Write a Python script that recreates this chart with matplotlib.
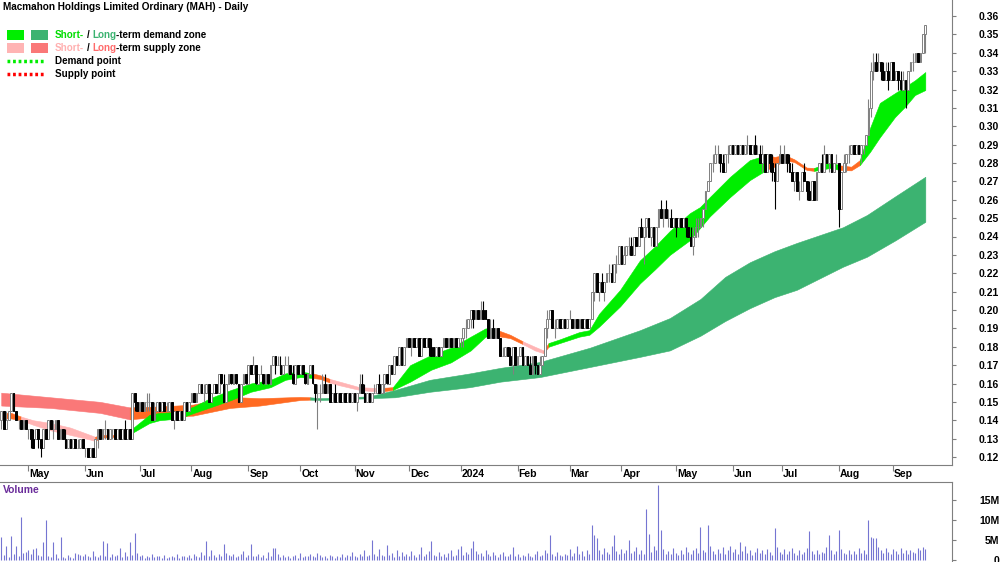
import numpy as np
import pandas as pd
import matplotlib
matplotlib.use('Agg')
import matplotlib.pyplot as plt
import matplotlib.transforms as mtransforms
from matplotlib.patches import Rectangle
from matplotlib.lines import Line2D

plt.rcParams['font.family'] = ['Liberation Sans', 'DejaVu Sans']

# ---- daily prices (cents) ----
opens = [
    14.0, 14.5, 13.5, 14.0, 14.5, 15.5, 14.5, 14.0, 14.0, 13.5,
    14.0, 13.5, 13.5, 13.0, 13.0, 13.5, 13.0, 12.5, 13.5, 13.0,
    14.0, 13.5, 13.5, 14.0, 13.0, 13.5, 13.0, 12.5, 13.0, 12.5,
    13.0, 12.5, 12.5, 13.0, 12.5, 12.5, 12.0, 12.5, 12.0, 13.0,
    13.5, 13.0, 13.5, 13.5, 13.0, 13.5, 13.5, 13.0, 13.5, 13.0,
    13.5, 13.0, 13.5, 13.0, 15.5, 15.0, 14.5, 15.0, 14.5, 15.0,
    15.0, 15.0, 14.0, 14.5, 15.0, 14.5, 15.0, 14.5, 14.5, 15.0,
    14.0, 14.5, 14.0, 14.5, 14.0, 15.0, 14.5, 15.0, 15.5, 15.0,
    15.5, 16.0, 15.5, 15.5, 16.0, 15.0, 15.5, 16.0, 15.5, 16.5,
    16.0, 15.0, 16.0, 16.5, 16.0, 16.5, 16.0, 15.0, 16.0, 16.5,
    16.0, 17.0, 16.5, 17.0, 16.0, 16.5, 16.5, 16.0, 16.5, 16.0,
    17.0, 17.5, 17.0, 17.0, 16.5, 17.0, 17.0, 17.0, 16.5, 16.0,
    17.0, 16.5, 17.0, 16.5, 16.0, 16.5, 17.0, 16.0, 15.5, 15.5,
    15.5, 16.0, 15.5, 16.0, 15.0, 15.5, 15.0, 15.5, 15.0, 15.5,
    15.0, 15.5, 15.0, 15.5, 15.0, 15.5, 16.0, 15.5, 15.0, 15.5,
    15.0, 15.5, 15.5, 16.0, 15.5, 16.0, 16.5, 16.0, 17.0, 16.5,
    17.5, 17.0, 18.0, 17.0, 18.0, 18.5, 18.0, 18.5, 18.0, 18.5,
    17.5, 18.5, 18.0, 18.5, 18.0, 18.0, 17.5, 18.0, 17.5, 18.0,
    18.5, 18.0, 18.5, 18.0, 18.5, 18.0, 18.5, 18.5, 19.0, 19.0,
    19.5, 20.0, 19.5, 20.0, 19.5, 20.0, 20.0, 19.5, 18.5, 19.0,
    18.5, 19.0, 18.5, 17.5, 17.5, 18.0, 17.5, 17.0, 18.0, 17.0,
    17.5, 18.0, 17.0, 17.5, 17.0, 16.5, 17.5, 17.0, 16.5, 17.0,
    17.5, 19.0, 19.5, 20.0, 19.0, 19.0, 19.5, 19.0, 19.5, 19.0,
    19.5, 19.5, 19.0, 19.5, 19.0, 19.5, 19.0, 19.5, 19.0, 19.5,
    21.0, 22.0, 21.0, 21.5, 21.0, 21.5, 22.0, 22.0, 21.5, 22.5,
    22.5, 23.5, 22.5, 23.0, 23.5, 23.5, 23.0, 24.0, 23.5, 24.5,
    24.0, 24.5, 25.0, 24.0, 24.5, 23.5, 24.5, 25.5, 25.0, 25.5,
    25.0, 25.0, 24.5, 25.0, 24.5, 25.0, 24.5, 25.0, 24.5, 24.0,
    23.5, 24.0, 24.5, 24.5, 25.0, 25.5, 26.5, 27.0, 28.0, 28.0,
    28.5, 28.5, 28.0, 27.5, 28.5, 28.5, 29.0, 28.5, 29.0, 28.5,
    29.0, 28.5, 29.0, 29.0, 28.5, 29.0, 28.5, 28.5, 28.0, 28.5,
    27.5, 28.5, 28.0, 27.5, 27.0, 28.0, 28.5, 28.0, 28.5, 28.0,
    27.5, 27.0, 27.5, 26.5, 26.5, 27.5, 27.0, 26.5, 26.0, 27.0,
    26.0, 27.5, 28.0, 27.5, 28.5, 28.0, 28.5, 27.5, 28.0, 28.0,
    25.5, 27.5, 28.0, 28.5, 28.5, 29.0, 28.5, 29.0, 28.5, 29.0,
    29.0, 29.5, 31.0, 33.0, 33.5, 33.5, 33.5, 33.0, 32.5, 33.0,
    32.5, 33.5, 32.5, 33.0, 32.5, 32.0, 32.5, 32.0, 33.0, 33.5,
    33.5, 34.0, 33.5, 34.0, 35.0,
]
highs = [
    14.5, 14.5, 14.5, 14.5, 15.5, 15.5, 14.5, 14.0, 14.0, 14.0,
    14.0, 13.5, 13.5, 13.5, 13.5, 13.5, 13.0, 13.5, 13.5, 14.0,
    14.0, 14.0, 14.0, 14.0, 13.5, 13.5, 13.5, 13.0, 13.0, 13.0,
    13.0, 13.0, 13.0, 13.0, 12.5, 12.5, 12.5, 12.5, 13.0, 13.5,
    13.5, 13.5, 14.0, 13.5, 13.5, 13.5, 13.5, 13.5, 13.5, 13.5,
    14.0, 13.5, 13.5, 15.5, 15.5, 15.0, 15.0, 15.0, 15.0, 15.5,
    15.5, 15.0, 15.0, 15.0, 15.0, 15.0, 15.0, 15.0, 15.0, 15.0,
    14.5, 14.5, 14.5, 14.5, 15.0, 15.0, 15.0, 15.5, 15.5, 15.5,
    16.0, 16.0, 16.0, 16.0, 16.0, 15.5, 16.0, 16.0, 16.5, 16.5,
    16.5, 16.0, 16.5, 16.5, 16.5, 16.5, 16.0, 16.0, 16.5, 16.5,
    17.0, 17.0, 17.5, 17.0, 16.5, 17.0, 16.5, 16.5, 16.5, 17.0,
    17.5, 17.5, 17.5, 17.5, 17.0, 17.5, 17.5, 17.0, 17.0, 17.0,
    17.0, 17.0, 17.0, 16.5, 16.5, 17.0, 17.0, 16.0, 16.0, 16.0,
    16.5, 16.5, 16.0, 16.0, 15.5, 16.0, 15.5, 15.5, 15.5, 15.5,
    15.5, 15.5, 15.5, 15.5, 15.5, 16.5, 16.5, 16.0, 15.5, 15.5,
    15.5, 16.0, 16.0, 16.5, 16.0, 16.5, 16.5, 17.0, 17.0, 17.5,
    17.5, 18.0, 18.0, 18.0, 18.5, 18.5, 18.5, 18.5, 18.5, 18.5,
    18.5, 18.5, 18.5, 18.5, 18.5, 18.0, 18.0, 18.0, 18.0, 18.5,
    18.5, 18.5, 18.5, 18.5, 18.5, 18.5, 18.5, 19.0, 19.5, 19.5,
    20.0, 20.0, 20.0, 20.0, 20.5, 20.5, 20.0, 19.5, 19.5, 19.5,
    19.0, 19.0, 18.5, 18.0, 18.0, 18.0, 18.0, 18.0, 18.0, 17.5,
    18.0, 18.0, 17.5, 17.5, 17.5, 17.5, 17.5, 17.0, 17.5, 17.5,
    19.0, 20.0, 20.0, 20.0, 19.5, 19.5, 19.5, 19.5, 19.5, 19.5,
    20.0, 19.5, 19.5, 19.5, 19.5, 19.5, 19.5, 19.5, 19.5, 21.0,
    22.0, 22.0, 21.5, 22.0, 21.5, 22.0, 22.5, 22.5, 22.5, 23.0,
    23.5, 23.5, 23.5, 23.5, 24.0, 24.0, 24.0, 24.0, 24.5, 25.0,
    24.5, 25.0, 25.0, 24.5, 24.5, 24.5, 25.5, 26.0, 25.5, 26.0,
    25.5, 25.5, 25.0, 25.0, 25.0, 25.0, 25.0, 25.0, 24.5, 24.5,
    24.5, 25.0, 25.0, 25.0, 25.5, 26.5, 27.0, 28.0, 28.5, 29.0,
    29.0, 28.5, 28.5, 28.5, 29.0, 29.0, 29.0, 29.0, 29.0, 29.0,
    29.0, 29.0, 29.5, 29.0, 29.0, 29.5, 29.0, 29.0, 29.0, 28.5,
    28.5, 28.5, 28.5, 28.0, 28.0, 29.0, 28.5, 29.0, 28.5, 28.5,
    28.0, 27.5, 27.5, 27.0, 27.5, 28.0, 27.0, 27.0, 27.0, 27.0,
    27.5, 28.0, 28.5, 29.0, 28.5, 28.5, 28.5, 28.0, 28.5, 28.0,
    27.5, 28.5, 28.5, 29.0, 29.0, 29.0, 29.0, 29.0, 29.0, 29.0,
    29.5, 31.5, 33.5, 34.0, 34.0, 34.0, 33.5, 33.5, 33.5, 33.5,
    33.5, 33.5, 33.0, 33.0, 33.0, 33.0, 32.5, 33.0, 33.5, 34.0,
    34.0, 34.0, 34.0, 35.0, 35.5,
]
lows = [
    13.5, 13.5, 13.5, 14.0, 14.5, 14.5, 14.0, 13.5, 13.5, 13.5,
    13.5, 13.0, 12.5, 12.5, 13.0, 12.5, 12.0, 12.5, 13.0, 13.0,
    13.5, 13.0, 13.5, 13.0, 13.0, 13.0, 12.5, 12.5, 12.5, 12.5,
    12.5, 12.5, 12.5, 12.5, 12.0, 12.0, 12.0, 12.0, 12.0, 12.5,
    13.0, 13.0, 13.0, 13.0, 13.0, 13.0, 13.0, 13.0, 13.0, 13.0,
    13.0, 13.0, 13.0, 13.0, 14.5, 14.5, 14.5, 14.5, 14.5, 14.5,
    14.5, 14.0, 14.0, 14.5, 14.5, 14.5, 14.5, 14.5, 14.5, 14.0,
    13.5, 14.0, 14.0, 14.0, 14.0, 14.5, 14.5, 15.0, 15.0, 15.0,
    15.5, 15.5, 15.0, 15.5, 15.0, 15.0, 15.5, 15.5, 15.5, 16.0,
    15.0, 15.0, 16.0, 16.0, 16.0, 16.0, 15.0, 15.0, 16.0, 16.0,
    16.0, 16.5, 16.5, 16.0, 16.0, 16.5, 16.0, 16.0, 16.0, 16.0,
    17.0, 16.5, 17.0, 16.5, 16.5, 17.0, 16.5, 16.5, 16.0, 16.0,
    16.5, 16.5, 16.5, 16.0, 16.0, 16.5, 16.0, 15.0, 13.5, 15.0,
    15.5, 15.5, 15.5, 15.0, 15.0, 15.0, 15.0, 15.0, 15.0, 15.0,
    15.0, 15.0, 15.0, 15.0, 14.5, 15.5, 15.5, 15.0, 15.0, 15.0,
    15.0, 15.5, 15.5, 15.5, 15.5, 15.5, 16.0, 16.0, 16.5, 16.5,
    17.0, 17.0, 17.0, 17.0, 18.0, 18.0, 17.5, 18.0, 18.0, 17.5,
    17.5, 18.0, 18.0, 17.5, 17.5, 17.5, 17.5, 17.5, 17.5, 18.0,
    18.0, 18.0, 18.0, 18.0, 18.0, 18.0, 18.0, 18.0, 18.5, 19.0,
    19.0, 19.0, 19.5, 19.5, 19.5, 19.5, 19.5, 18.5, 18.5, 18.5,
    18.5, 18.5, 17.5, 17.5, 17.5, 17.5, 17.0, 16.5, 17.0, 17.0,
    17.5, 17.0, 17.0, 17.0, 16.5, 16.5, 16.5, 16.5, 16.5, 17.0,
    17.5, 18.5, 19.5, 19.0, 18.5, 19.0, 19.0, 19.0, 19.0, 19.0,
    19.5, 19.0, 19.0, 19.0, 19.0, 19.0, 19.0, 19.0, 19.0, 19.5,
    20.5, 21.0, 20.5, 21.0, 20.5, 21.5, 21.5, 21.5, 21.5, 22.0,
    22.5, 22.5, 22.5, 23.0, 23.0, 23.0, 23.0, 23.5, 23.5, 24.0,
    22.5, 24.0, 24.0, 23.5, 23.5, 23.5, 24.5, 25.0, 24.5, 25.0,
    24.5, 24.5, 24.5, 24.0, 24.5, 24.5, 24.5, 24.0, 24.0, 23.5,
    23.0, 24.0, 24.0, 24.5, 24.5, 25.5, 26.5, 27.0, 27.5, 28.0,
    28.0, 27.5, 27.5, 27.5, 28.0, 28.5, 28.5, 28.5, 28.5, 28.5,
    28.5, 28.5, 28.5, 28.5, 28.5, 28.5, 28.5, 28.0, 27.5, 27.5,
    27.5, 27.5, 27.0, 25.5, 27.0, 28.0, 28.0, 28.0, 27.5, 27.5,
    27.0, 26.5, 26.5, 26.0, 26.5, 27.0, 26.0, 26.0, 26.0, 26.0,
    26.0, 27.5, 27.5, 27.5, 28.0, 27.5, 27.5, 27.5, 28.0, 24.5,
    25.5, 27.5, 27.5, 28.0, 28.5, 28.5, 28.5, 28.5, 28.0, 28.5,
    29.0, 29.5, 30.5, 32.5, 33.0, 33.0, 32.5, 32.5, 32.5, 32.0,
    32.5, 32.5, 32.5, 32.0, 32.0, 32.0, 31.0, 32.0, 33.0, 33.0,
    33.5, 33.5, 33.5, 34.0, 34.0,
]
closes = [
    14.5, 13.5, 14.0, 14.5, 15.5, 14.5, 14.0, 14.0, 13.5, 14.0,
    13.5, 13.5, 13.0, 12.5, 13.5, 13.0, 12.5, 13.5, 13.0, 14.0,
    13.5, 13.5, 14.0, 13.0, 13.5, 13.0, 12.5, 13.0, 12.5, 13.0,
    12.5, 12.5, 13.0, 12.5, 12.5, 12.0, 12.5, 12.0, 13.0, 13.5,
    13.0, 13.5, 13.5, 13.0, 13.5, 13.5, 13.0, 13.5, 13.0, 13.5,
    13.0, 13.5, 13.0, 15.5, 15.0, 14.5, 15.0, 14.5, 15.0, 15.0,
    15.0, 14.0, 14.5, 15.0, 14.5, 15.0, 14.5, 14.5, 15.0, 14.0,
    14.5, 14.0, 14.5, 14.0, 15.0, 14.5, 15.0, 15.5, 15.0, 15.5,
    16.0, 15.5, 15.5, 16.0, 15.0, 15.5, 16.0, 15.5, 16.5, 16.0,
    15.0, 16.0, 16.5, 16.0, 16.5, 16.0, 15.0, 16.0, 16.5, 16.0,
    17.0, 16.5, 17.0, 16.0, 16.5, 16.5, 16.0, 16.5, 16.0, 17.0,
    17.5, 17.0, 17.0, 16.5, 17.0, 17.0, 17.0, 16.5, 16.0, 17.0,
    16.5, 17.0, 16.5, 16.0, 16.5, 17.0, 16.0, 15.5, 15.5, 15.5,
    16.0, 15.5, 16.0, 15.0, 15.5, 15.0, 15.5, 15.0, 15.5, 15.0,
    15.5, 15.0, 15.5, 15.0, 15.5, 16.0, 15.5, 15.0, 15.5, 15.0,
    15.5, 15.5, 16.0, 15.5, 16.0, 16.5, 16.0, 17.0, 16.5, 17.5,
    17.0, 18.0, 17.0, 18.0, 18.5, 18.0, 18.5, 18.0, 18.5, 17.5,
    18.5, 18.0, 18.5, 18.0, 17.5, 17.5, 18.0, 17.5, 18.0, 18.5,
    18.0, 18.5, 18.0, 18.5, 18.0, 18.5, 18.5, 19.0, 19.0, 19.5,
    20.0, 19.5, 20.0, 19.5, 20.0, 19.5, 19.5, 18.5, 19.0, 18.5,
    19.0, 18.5, 17.5, 17.5, 18.0, 17.5, 17.0, 18.0, 17.0, 17.5,
    18.0, 17.0, 17.5, 17.0, 16.5, 17.5, 17.0, 16.5, 17.0, 17.5,
    19.0, 19.5, 20.0, 19.0, 19.0, 19.5, 19.0, 19.5, 19.0, 19.5,
    19.5, 19.0, 19.5, 19.0, 19.5, 19.0, 19.5, 19.0, 19.5, 21.0,
    22.0, 21.0, 21.5, 21.0, 21.5, 22.0, 22.0, 21.5, 22.5, 22.5,
    23.5, 22.5, 23.0, 23.5, 23.5, 23.0, 24.0, 23.5, 24.5, 24.0,
    24.5, 25.0, 24.0, 24.5, 23.5, 24.5, 25.5, 25.0, 25.5, 25.0,
    25.0, 24.5, 25.0, 24.5, 25.0, 24.5, 25.0, 24.5, 24.0, 23.5,
    24.0, 24.5, 24.5, 25.0, 25.5, 26.5, 27.0, 28.0, 28.0, 28.5,
    28.5, 28.0, 27.5, 28.5, 28.5, 29.0, 28.5, 29.0, 28.5, 29.0,
    28.5, 29.0, 29.0, 28.5, 29.0, 28.5, 28.5, 28.0, 28.5, 27.5,
    28.5, 28.0, 27.5, 27.0, 28.0, 28.5, 28.0, 28.5, 28.0, 27.5,
    27.0, 27.5, 26.5, 26.5, 27.5, 27.0, 26.5, 26.0, 27.0, 26.0,
    27.5, 28.0, 27.5, 28.5, 28.0, 28.5, 27.5, 28.0, 28.0, 25.5,
    27.5, 28.0, 28.5, 28.5, 29.0, 28.5, 29.0, 28.5, 29.0, 29.0,
    29.5, 31.0, 33.0, 33.5, 33.0, 33.5, 33.0, 32.5, 33.0, 32.5,
    33.5, 32.5, 33.0, 32.5, 32.0, 32.5, 32.0, 33.0, 33.5, 33.5,
    34.0, 33.5, 34.0, 35.0, 35.5,
]

# ---- daily volume (millions) ----
volume_m = [
    5.8, 1.2, 3.5, 0.8, 6.0, 1.5, 3.5, 1.0, 10.8, 1.8, 2.0, 2.5, 1.5, 2.8, 3.0,
    1.2, 0.9, 4.6, 10.0, 1.0, 0.8, 4.6, 1.5, 0.6, 5.8, 0.7, 0.5, 1.2, 0.8, 0.6,
    1.7, 1.5, 1.2, 0.9, 1.4, 1.0, 0.8, 2.2, 1.1, 0.7, 1.3, 4.8, 1.0, 4.3, 0.8,
    1.6, 0.9, 1.2, 3.0, 0.7, 1.9, 1.0, 4.6, 1.2, 6.8, 1.8, 0.9, 1.2, 0.6, 1.0,
    0.8, 1.5, 0.7, 1.1, 0.9, 0.6, 1.3, 0.5, 0.8, 1.0, 0.7, 1.4, 0.6, 0.9, 1.1,
    0.8, 1.2, 0.6, 1.5, 1.0, 0.7, 2.0, 1.2, 4.8, 1.0, 2.5, 1.3, 0.8, 1.6, 1.1,
    4.0, 1.8, 1.2, 0.9, 1.4, 0.7, 1.0, 1.6, 2.2, 0.8, 1.3, 4.0, 1.1, 0.9, 1.5,
    0.8, 1.2, 0.6, 1.9, 1.0, 3.0, 3.0, 1.4, 0.8, 1.2, 0.7, 1.0, 0.5, 0.9, 1.3,
    0.6, 1.8, 0.7, 1.1, 0.9, 1.6, 1.0, 0.8, 1.8, 1.2, 0.7, 1.0, 0.6, 1.3, 0.9,
    0.5, 1.1, 0.8, 1.5, 0.7, 1.2, 0.9, 2.0, 1.0, 0.8, 1.4, 1.1, 2.5, 0.9, 1.2,
    5.0, 1.5, 1.0, 2.8, 1.2, 0.9, 3.8, 1.3, 1.7, 0.8, 2.6, 1.1, 1.9, 0.9, 1.4,
    1.0, 2.3, 1.2, 0.8, 1.6, 3.2, 1.0, 1.5, 2.2, 4.8, 1.3, 0.9, 2.0, 1.1, 1.5,
    0.8, 1.8, 2.5, 1.0, 1.3, 2.7, 3.5, 1.2, 2.0, 1.5, 3.0, 4.8, 2.2, 1.4, 1.8,
    1.1, 2.4, 1.6, 1.0, 1.9, 1.3, 0.8, 1.5, 2.0, 1.1, 0.9, 1.4, 3.2, 1.0, 1.6,
    0.8, 1.2, 0.9, 1.7, 1.1, 0.7, 1.5, 2.2, 1.0, 1.3, 2.4, 1.8, 6.2, 1.5, 1.1,
    2.0, 1.3, 0.9, 1.6, 1.2, 2.8, 1.0, 1.7, 3.5, 1.4, 2.2, 1.1, 2.6, 1.5, 8.8,
    6.2, 5.4, 2.5, 1.6, 3.0, 2.0, 1.4, 3.5, 6.2, 2.2, 1.5, 2.8, 1.8, 2.6, 5.0,
    1.8, 2.2, 3.3, 1.5, 2.6, 1.4, 12.7, 6.5, 2.0, 3.6, 2.4, 18.8, 7.5, 2.8, 1.6,
    2.2, 1.5, 3.0, 1.8, 1.2, 2.6, 1.6, 3.2, 2.0, 1.4, 2.4, 3.0, 1.8, 8.3, 2.6,
    2.0, 8.8, 3.4, 2.2, 1.6, 2.8, 1.8, 3.2, 1.5, 2.4, 3.6, 2.0, 2.8, 1.6, 4.6,
    2.2, 3.4, 1.8, 2.6, 1.3, 2.0, 3.0, 1.7, 2.4, 1.5, 2.8, 1.9, 1.2, 7.9, 3.2,
    2.0, 1.6, 2.8, 1.4, 2.2, 3.0, 1.8, 1.2, 2.4, 1.6, 2.0, 3.0, 7.2, 2.2, 1.6,
    2.6, 1.4, 2.0, 1.8, 3.2, 6.2, 2.4, 1.5, 2.2, 7.5, 2.8, 1.8, 1.4, 2.6, 1.6,
    2.2, 1.4, 3.0, 1.8, 2.4, 1.6, 10.0, 5.8, 5.4, 5.6, 3.2, 2.6, 1.8, 3.0, 2.0,
    1.4, 2.8, 2.2, 1.6, 3.0, 1.8, 2.4, 1.5, 2.6, 2.0, 1.7, 3.0, 2.4, 3.2, 2.8,
]

# ---- short-term zone edges (cents) at bar positions ----
st_pos = [0, 4, 8, 13, 20, 28, 36, 38, 40, 46, 52.5, 53.5, 60, 64, 72, 78, 84.5, 93,
          101, 109, 115, 121, 126, 129, 133, 137, 145, 153, 158.5, 165.5, 174, 182,
          190, 196, 200, 206, 211, 216, 219.5, 221.5, 226, 234, 238, 242, 250.5,
          258.5, 264.5, 270.6, 278.7, 282.8, 286.8, 295, 303, 310, 313, 317, 321,
          326, 329, 335.4, 339.5, 344, 347.5, 351.6, 355.6, 361.7, 365.7, 369.8, 374]
st_top = [14.4, 14.4, 14.2, 14.0, 13.85, 13.6, 13.2, 13.1, 13.2, 13.2, 13.25, 13.6, 14.3,
          14.4, 14.45, 14.75, 15.2, 15.65, 16.0, 16.2, 16.55, 16.65, 16.55, 16.45, 16.25,
          16.1, 15.8, 15.75, 15.8, 17.0, 17.55, 17.95, 18.55, 19.0, 18.95, 18.65, 18.3,
          18.0, 17.8, 18.2, 18.4, 18.8, 18.9, 19.8, 21.1, 22.7, 23.45, 24.3, 25.27, 25.6,
          26.15, 27.25, 28.16, 28.44, 28.33, 28.44, 28.2, 27.75, 27.73, 28.05, 27.87,
          27.8, 28.16, 29.9, 31.27, 31.8, 32.14, 32.5, 32.95]
st_bot = [14.1, 14.1, 14.0, 13.75, 13.45, 13.2, 12.95, 12.87, 13.05, 13.1, 13.1, 13.35,
          13.85, 14.0, 14.1, 14.4, 14.7, 15.1, 15.55, 15.8, 16.2, 16.35, 16.3, 16.25,
          16.05, 15.9, 15.65, 15.55, 15.65, 16.1, 16.75, 17.15, 17.8, 18.55, 18.6, 18.47,
          18.15, 17.8, 17.65, 18.0, 18.2, 18.55, 18.65, 19.1, 20.2, 21.45, 22.2, 23.0,
          23.8, 24.46, 25.1, 26.15, 27.07, 27.65, 27.8, 28.16, 28.05, 27.62, 27.57, 27.73,
          27.62, 27.6, 27.89, 28.6, 29.4, 30.5, 31.05, 31.7, 31.97]
st_runs = [(0, 8, 'neutral'), (8, 38, 'supply'), (38, 52.5, 'neutral'), (52.5, 126, 'demand'),
           (126, 133, 'neutral'), (133, 153, 'supply'), (153, 158.5, 'neutral'),
           (158.5, 200, 'demand'), (200, 211, 'neutral'), (211, 219.5, 'supply'),
           (219.5, 221.5, 'neutral'), (221.5, 310, 'demand'), (310, 329, 'neutral'),
           (329, 339.5, 'demand'), (339.5, 347.5, 'neutral'), (347.5, 374, 'demand')]

# ---- long-term zone edges (cents) ----
lt_pos = [0, 20, 40, 52, 64, 77.6, 92.6, 104.7, 121, 125, 129, 149, 159.4, 173.5, 189.7,
          202, 218, 238.3, 258.5, 270.6, 283, 293, 303, 313, 322, 340.6, 350.4, 362, 374]
lt_top = [15.5, 15.25, 15.0, 14.7, 14.75, 14.85, 15.27, 15.2, 15.27, 15.25, 15.2, 15.3,
          15.65, 16.2, 16.55, 16.85, 17.17, 17.95, 18.9, 19.56, 20.6, 21.8, 22.6, 23.2,
          23.65, 24.5, 25.17, 26.2, 27.25]
lt_bot = [14.8, 14.67, 14.4, 14.05, 14.2, 14.25, 14.67, 14.8, 15.1, 15.12, 15.1, 15.2,
          15.25, 15.55, 15.8, 16.1, 16.35, 16.9, 17.45, 17.8, 18.6, 19.4, 20.1, 20.7,
          21.1, 22.35, 22.9, 23.8, 24.8]
lt_runs = [(0, 52, 'supply'), (52, 125, 'neutral'), (125, 374, 'demand')]

title = 'Macmahon Holdings Limited Ordinary (MAH) - Daily'

# colours
st_col = {'demand': '#00ee00', 'supply': '#ffb4b4', 'neutral': '#ff6a22'}
lt_col = {'demand': '#3cb371', 'supply': '#fa7878', 'neutral': '#ff6a22'}
axis_col = '#7f7f7f'
fs = 7.5
fs_small = 7.1

n = len(closes)
dates = pd.bdate_range('2023-04-14', periods=n)
x = np.arange(n)
o = np.array(opens) / 100
h = np.array(highs) / 100
lo = np.array(lows) / 100
c = np.array(closes) / 100

W, H = 1000, 562
fig = plt.figure(figsize=(10, 5.62), dpi=100)
fig.patch.set_facecolor('white')


def fx(px):
    return px / W


def fy(py):
    return 1 - py / H


ax = fig.add_axes([0, fy(465), fx(952), 465 / H])
axv = fig.add_axes([0, 0, fx(952), fy(482)])

xlim = (-0.5, 384.8)


def draw_zone(pos, top, bot, runs, cols, z):
    pos = np.array(pos)
    top = np.array(top) / 100
    bot = np.array(bot) / 100
    for a, b, state in runs:
        m = (pos >= a) & (pos <= b)
        ax.fill_between(pos[m], bot[m], top[m], color=cols[state], lw=0.4, zorder=z)


draw_zone(lt_pos, lt_top, lt_bot, lt_runs, lt_col, 1)
draw_zone(st_pos, st_top, st_bot, st_runs, st_col, 2)

# candles
up = c >= o
ax.vlines(x[up], lo[up], h[up], color='#808080', lw=0.8, zorder=3)
ax.vlines(x[~up], lo[~up], h[~up], color='black', lw=0.8, zorder=3)
ax.bar(x[up], (c - o)[up], bottom=o[up], width=0.7, facecolor='white',
       edgecolor='#808080', lw=0.7, zorder=4)
ax.bar(x[~up], (c - o)[~up], bottom=o[~up], width=0.7, facecolor='black',
       edgecolor='black', lw=0.7, zorder=4)

ax.set_xlim(*xlim)
ax.set_ylim(0.12 - 8 / 1837.5, 0.36 + 16 / 1837.5)
for s in ['top', 'left']:
    ax.spines[s].set_visible(False)
for s in ['right', 'bottom']:
    ax.spines[s].set_color(axis_col)

yt = np.arange(12, 37) / 100
ax.yaxis.tick_right()
ax.set_yticks(yt)
ax.set_yticklabels([f'{v:.2f}' for v in yt], ha='right', fontsize=fs, fontweight='bold')
ax.tick_params(axis='y', length=3, width=0.8, color=axis_col, pad=31)

month_start = [i for i in range(1, n) if dates[i].month != dates[i - 1].month]
month_text = ['2024' if dates[i].month == 1 else dates[i].strftime('%b') for i in month_start]
ax.set_xticks(month_start)
ax.set_xticklabels([])
ax.tick_params(axis='x', length=4, width=0.8, color=axis_col)
trans = mtransforms.blended_transform_factory(ax.transData, ax.transAxes)
for i, t in zip(month_start, month_text):
    ax.text(i + 0.4, -9 / 465, t, transform=trans, ha='left', va='center',
            fontsize=fs, fontweight='bold', clip_on=False)

# volume
axv.vlines(x, 0, volume_m, color='#7575d2', lw=0.8)
axv.set_xlim(*xlim)
axv.set_ylim(-0.5, 19.5)
axv.set_xticks([])
for s in ['bottom', 'left']:
    axv.spines[s].set_visible(False)
for s in ['top', 'right']:
    axv.spines[s].set_color(axis_col)
axv.yaxis.tick_right()
axv.set_yticks([0, 5, 10, 15])
axv.set_yticklabels(['0', '5M', '10M', '15M'], ha='right', fontsize=fs, fontweight='bold')
axv.tick_params(axis='y', length=3, width=0.8, color=axis_col, pad=31)
fig.text(fx(3), fy(490), 'Volume', color='#6a2c9a', fontsize=fs, fontweight='bold',
         ha='left', va='center')

# title and legend
fig.text(fx(3), fy(7), title, fontsize=7.2, fontweight='bold', ha='left', va='center')

for (x0, y0, col) in [(7, 30, '#00ee00'), (31, 30, '#3cb371'),
                      (7, 43, '#ffb4b4'), (31, 43, '#fa7878')]:
    fig.add_artist(Rectangle((fx(x0), fy(y0 + 10)), fx(17), 10 / H, transform=fig.transFigure,
                             facecolor=col, edgecolor='none'))
fig.add_artist(Line2D([fx(7), fx(45)], [fy(61), fy(61)], transform=fig.transFigure,
                      color='#00ee00', lw=2.5, ls=(0, (0.8, 0.8))))
fig.add_artist(Line2D([fx(7), fx(45)], [fy(74), fy(74)], transform=fig.transFigure,
                      color='#ff0000', lw=2.5, ls=(0, (0.8, 0.8))))


def color_line(parts, px, py):
    prev = fig.text(fx(px), fy(py), parts[0][0], color=parts[0][1], fontsize=fs_small,
                    fontweight='bold', ha='left', va='center')
    for s, col, gap in parts[1:]:
        prev = ax.annotate(s, xy=(1, 0), xycoords=prev, xytext=(gap, 0),
                           textcoords='offset points', color=col, fontsize=fs_small,
                           fontweight='bold', ha='left', va='bottom', annotation_clip=False)


color_line([('Short-', '#00dd00'), ('/', 'black', 2.0), ('Long', '#3cb371', 2.0),
            ('-term demand zone', 'black', 0)], 55, 35)
color_line([('Short-', '#ffb0b0'), ('/', 'black', 2.0), ('Long', '#ff6b6b', 2.0),
            ('-term supply zone', 'black', 0)], 55, 48)
fig.text(fx(55), fy(61), 'Demand point', fontsize=fs_small, fontweight='bold', ha='left', va='center')
fig.text(fx(55), fy(74), 'Supply point', fontsize=fs_small, fontweight='bold', ha='left', va='center')

fig.savefig('out.png', dpi=100, facecolor='white')
